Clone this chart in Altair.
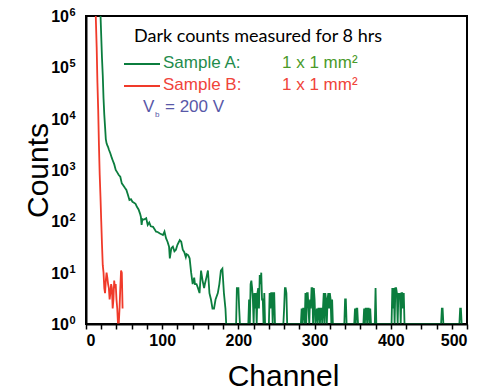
import altair as alt
import pandas as pd

# ---- data ----
green_ch = [18, 19, 20, 21, 22, 23, 24, 25, 26, 27, 28, 29, 30, 32, 34, 35, 37, 39, 41, 43, 45, 47, 49, 51, 53, 55, 57, 59, 61, 63, 65, 67, 69, 71, 72, 73, 74, 75, 77, 79, 81, 83, 85, 88, 90, 92, 94, 97, 99, 101, 103, 105, 107, 109, 110, 112, 114, 116, 118, 120, 122, 123, 125, 127, 129, 131, 132, 134, 136, 138, 140, 142, 143, 145, 147, 149, 151, 153, 155, 156, 158, 160, 162, 164, 166, 168, 170, 173, 175, 177, 179, 181, 183, 184,
            197, 198, 199, 200, 201, 202,
            213, 214, 215, 216, 217, 218, 219, 220, 221, 222, 223, 224, 225, 226, 227, 228, 229, 230, 231, 232, 233, 234, 235,
            240, 241, 242, 243, 244, 245, 246, 247, 248,
            259, 260, 261, 262, 263, 264,
            282, 283, 284, 285, 286, 287,
            288, 289, 290, 291, 292, 293, 294, 295, 296, 297, 298, 299, 300, 301,
            303, 304, 305, 306, 307, 308, 309, 310,
            312, 313, 314, 315, 316, 317, 318, 319, 320, 321, 322, 323, 324,
            339, 340, 341, 342,
            352, 353, 354, 355, 356, 357,
            364, 365, 366, 367, 368, 369, 370, 371, 372, 373, 374,
            379, 380, 381,
            401, 402, 403, 404, 405, 406, 407, 408, 409, 410, 411, 412, 413, 414, 415, 416, 417, 418,
            466, 467, 468, 469,
            490, 491, 492, 493]
green_ct = [3e6, 1.1e6, 4e5, 1.5e5, 7e4, 2.5e4, 1.2e4, 7e3, 4e3, 3.3e3, 3e3, 2.8e3, 2.5e3, 2.1e3, 1.7e3, 1.55e3, 1.3e3, 1e3, 900, 800, 740, 550, 500, 450, 410, 330, 260, 270, 240, 230, 220, 190, 170, 140, 123, 85, 110, 107, 110, 115, 85, 95, 80, 78, 70, 63, 62, 58, 56, 54, 63, 47, 40, 32, 19, 30, 32, 26, 28, 35, 40, 43, 40, 28, 25, 20, 23, 22, 19, 10, 6, 8, 6, 6, 5, 4, 11, 7, 5, 6, 8, 11, 4, 3, 2, 2, 3, 4, 6, 11, 12, 4, 2, 1,
            1, 5, 5, 5, 2, 1,
            1, 3, 1, 6, 7, 5, 3, 1, 4, 2, 4, 1, 4, 5, 2, 9, 6, 10, 3, 3, 1, 4, 1,
            1, 4, 2, 4, 4, 1, 4, 4, 1,
            1, 2, 5, 5, 4, 1,
            1, 2, 1, 2, 2, 1,
            4, 1, 4, 4, 2, 1, 3, 2, 5, 5, 1, 5, 3, 1,
            2, 1, 2, 2, 1, 2, 2, 1,
            4, 1, 4, 3, 1, 3, 4, 2, 4, 3, 1, 3, 1,
            1, 3, 3, 1,
            1, 2, 1, 2, 2, 1,
            1, 2, 1, 2, 2, 1, 2, 2, 1, 2, 1,
            1, 5, 1,
            1, 5, 2, 5, 1, 5, 5, 4, 1, 4, 3, 4, 1, 4, 4, 2, 4, 1,
            1, 2, 2, 1,
            1, 2, 2, 1]

red_ch = [12, 13, 14, 15, 16, 17, 18, 19, 20, 21, 22, 23, 24, 25, 26, 27, 28, 29, 30, 31, 32, 33, 34, 35, 36, 37, 38, 39, 40, 41, 42, 43, 44, 45, 46, 47, 48]
red_ct = [3e6, 8e5, 2.5e5, 5e4, 1.5e4, 3e3, 800, 300, 100, 35, 14, 10, 5, 4, 7, 10, 8, 6, 5, 3, 4, 6, 5, 2, 3, 7, 5, 6, 3, 2, 1, 1, 2, 5, 11, 10, 2]

x_ticks = list(range(0, 501, 20))          # minor ticks every 20, labels every 100
y_ticks = [1, 10, 100, 1000, 10000, 100000, 1000000]
y_exp = ["⁰", "¹", "²", "³", "⁴", "⁵", "⁶"]

df = pd.concat([
    pd.DataFrame({"channel": green_ch, "counts": green_ct, "series": "Sample A", "i": range(len(green_ch))}),
    pd.DataFrame({"channel": red_ch, "counts": red_ct, "series": "Sample B", "i": range(len(red_ch))}),
])

GREEN = "#0b7d3e"
RED = "#f03a2a"
BLUE = "#5858a8"

xscale = alt.Scale(domain=[0, 500], nice=False)
yscale = alt.Scale(type="log", domain=[1, 1e6], nice=False)

x_enc = alt.X("channel:Q", scale=xscale,
              axis=alt.Axis(values=x_ticks, title="Channel", grid=False,
                            labelExpr="datum.value % 100 == 0 ? datum.label : ''",
                            labelFont="Liberation Sans", labelFontWeight="bold",
                            labelFontSize=16, labelColor="black", labelPadding=3,
                            domainColor="black", domainWidth=2, tickColor="black",
                            tickWidth=1.5, tickSize=5, titleFont="Liberation Sans",
                            titleFontSize=30, titleFontWeight="normal", titleColor="black",
                            titleX=197, titleY=61, titleBaseline="alphabetic", zindex=1))
y_enc = alt.Y("counts:Q", scale=yscale,
              axis=alt.Axis(values=y_ticks, title="Counts", grid=False, ticks=False, labels=False,
                            domainColor="black", domainWidth=2,
                            titleFont="Liberation Sans", titleFontSize=30,
                            titleFontWeight="normal", titleColor="black",
                            titleAngle=-90, titleX=-39, titleY=154,
                            titleBaseline="alphabetic", titleAlign="center", zindex=1))

lines = alt.Chart(df).mark_line(strokeWidth=1.8, clip=True, interpolate="linear").encode(
    x=x_enc, y=y_enc,
    color=alt.Color("series:N", scale=alt.Scale(domain=["Sample A", "Sample B"], range=[GREEN, RED]), legend=None),
    order="i:Q",
    detail="series:N",
)

ylab_df = pd.DataFrame({"v": y_ticks, "base": ["10"] * len(y_ticks), "exp": y_exp})
ylab_base = alt.Chart(ylab_df).mark_text(
    align="right", baseline="middle", font="Liberation Sans", fontWeight="bold",
    fontSize=16, color="black", dy=1
).encode(x=alt.value(-17), y=alt.Y("v:Q", scale=yscale), text="base:N")
ylab_exp = alt.Chart(ylab_df).mark_text(
    align="left", baseline="middle", font="Liberation Sans", fontWeight="bold",
    fontSize=11, color="black", dy=-3
).encode(x=alt.value(-16.5), y=alt.Y("v:Q", scale=yscale), text=alt.Text("v:Q", format="d"))
ylab_exp = alt.Chart(ylab_df).mark_text(
    align="left", baseline="middle", font="Liberation Sans", fontWeight="bold",
    fontSize=11, color="black", dy=-3
).transform_calculate(
    e="round(log(datum.v)/LN10)"
).encode(x=alt.value(-16.5), y=alt.Y("v:Q", scale=yscale), text="e:N")

def txt(s, x, y, color, size=17, font="Liberation Sans"):
    return alt.Chart(pd.DataFrame({"t": [s]})).mark_text(
        align="left", baseline="alphabetic", font=font, fontSize=size, color=color
    ).encode(x=alt.value(x), y=alt.value(y), text="t:N")

def rule(y, color):
    return alt.Chart(pd.DataFrame({"a": [0]})).mark_rule(color=color, strokeWidth=2).encode(
        x=alt.value(124 - 86), x2=alt.value(160 - 86), y=alt.value(y - 16))

annot = [
    txt("Dark counts measured for 8 hrs", 134 - 86, 42 - 16, "black", size=18, font="Lato"),
    rule(64, GREEN),
    rule(86, RED),
    txt("Sample A:", 163 - 86, 68 - 16, "#1f8c4c"),
    txt("1 x 1 mm²", 282 - 86, 68 - 16, "#4a9a2a"),
    txt("Sample B:", 163 - 86, 90 - 16, "#f0443a"),
    txt("1 x 1 mm²", 282 - 86, 90 - 16, "#f0443a"),
    txt("V", 143 - 86, 112 - 16, BLUE),
    txt("b", 155 - 86, 117 - 16, BLUE, size=8),
    txt("= 200 V", 165 - 86, 112 - 16, BLUE),
]

chart = alt.layer(lines, ylab_base, ylab_exp, *annot).properties(
    width=381, height=308,
    autosize="none",
    padding={"left": 86, "top": 16, "right": 16, "bottom": 66},
    background="white",
).configure_view(stroke="black", strokeWidth=2)

chart.save("out.html", embed_options={"renderer": "svg", "actions": False})
